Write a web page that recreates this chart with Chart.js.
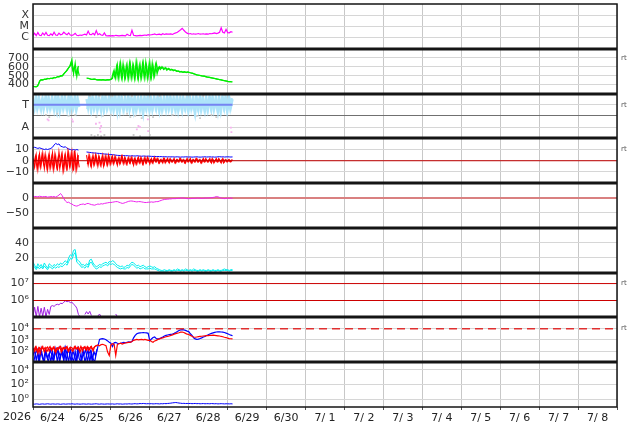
<!DOCTYPE html>
<html>
<head>
<meta charset="utf-8">
<script src="https://cdn.jsdelivr.net/npm/chart.js@4.4.1/dist/chart.umd.min.js"></script>
<style>
  html, body { margin: 0; padding: 0; background: #fff; }
  canvas { display: block; }
</style>
</head>
<body>
<canvas id="spaceWx" width="634" height="424"></canvas>
<script>
// time axis in hours from 6/24 00:00, series are one value per hour
// (the "Half" arrays are the in-between half-hour samples of the noisy series)
var xMin = 0, xMax = 360;
var yearLabel = '2026';
var dayLabels = ['6/24', '6/25', '6/26', '6/27', '6/28', '6/29', '6/30', '7/ 1',
                 '7/ 2', '7/ 3', '7/ 4', '7/ 5', '7/ 6', '7/ 7', '7/ 8'];

// x-ray flux, in 1e-6 W/m2
var xrayFlux = [
  1.6, 2.4, 1.5, 2.8, 1.6, 1.5, 2.6, 1.7, 2.9, 1.6, 1.5, 2.2,
  1.6, 3.0, 1.7, 1.6, 2.5, 1.8, 2.0, 3.1, 2.2, 1.8, 2.6, 1.7,
  1.6, 1.8, 2.4, 1.6, 1.5, 1.7, 1.6, 1.8, 2.0, 1.7, 3.8, 1.9,
  1.8, 2.4, 1.7, 4.2, 1.8, 2.2, 1.7, 1.6, 2.6, 1.5, 1.4, 1.5,
  1.4, 1.5, 1.4, 1.6, 1.5, 1.4, 1.5, 1.6, 1.5, 1.4, 2.0, 1.6,
  1.5, 4.5, 1.6, 1.5, 1.4, 1.5, 1.6, 1.5, 1.6, 1.7, 1.6, 1.8,
  1.7, 1.8, 1.9, 2.1, 1.8, 1.9, 2.0, 1.8, 2.2, 1.9, 2.1, 2.0,
  2.0, 2.1, 1.9, 2.3, 2.6, 3.0, 3.8, 5.0, 6.8, 4.5, 3.2, 2.5,
  2.1, 2.3, 2.0, 2.2, 2.0, 2.1, 2.3, 2.0, 2.1, 2.2, 2.0, 2.1,
  2.0, 2.3, 2.2, 2.4, 2.6, 2.3, 2.5, 3.0, 7.5, 3.0, 2.6, 5.5,
  2.8, 2.7, 3.4, 3.0];
var xrayTicks = [1, 10, 100];
var xrayTickLabels = ['C', 'M', 'X'];

// solar wind speed, km/s
var windSpeed = [
  380, 378, 375, 385, 440, 455, 450, 462, 458, 470, 465, 472,
  468, 480, 475, 490, 485, 500, 495, 520, 540, 560, 590, 610,
  680, 520, 640, 490, 610, null, null, null, null, 472, 470, 465,
  460, 458, 462, 455, 452, 456, 450, 455, 452, 450, 455, 452,
  458, 470, 560, 470, 620, 480, 640, 470, 600, 480, 620, 470,
  630, 475, 610, 480, 650, 470, 625, 485, 640, 475, 615, 490,
  650, 480, 610, 500, 640, 560, 600, 580, 590, 575, 585, 570,
  575, 565, 568, 560, 556, 550, 548, 545, 540, 542, 538, 540,
  537, 532, 528, 522, 515, 508, 506, 502, 498, 495, 492, 486,
  483, 480, 476, 472, 468, 464, 460, 456, 452, 448, 444, 440,
  436, 433, 432, 430];
var windSpeedHalf = [
  379, 376, 380, 410, 448, 452, 456, 460, 464, 468, 468, 470,
  474, 478, 482, 488, 492, 498, 508, 530, 550, 575, 600, 650,
  560, 600, 520, 580, 500, null, null, null, null, 471, 468, 462,
  459, 460, 458, 453, 454, 453, 452, 453, 451, 452, 453, 455,
  465, 540, 480, 600, 470, 620, 480, 630, 470, 610, 475, 640,
  480, 620, 470, 645, 480, 610, 470, 635, 485, 650, 470, 620,
  480, 640, 490, 620, 520, 590, 570, 600, 570, 590, 560, 580,
  560, 572, 555, 565, 548, 552, 540, 548, 536, 545, 534, 541,
  535, 530, 525, 518, 512, 507, 504, 500, 496, 494, 489, 484,
  481, 478, 474, 470, 466, 462, 458, 454, 450, 446, 442, 438,
  434, 433, 431];
var speedTicks = [400, 500, 600, 700];

// field direction: T = 3, A = 1
var phiBand = [
  3.5, 2.7, 3.6, 2.8, 3.4, 2.6, 3.5, 2.9, 3.6, 2.7, 3.4, 2.8,
  3.5, 2.6, 3.6, 2.5, 3.4, 2.7, 3.6, 2.8, 3.5, 2.6, 3.7, 2.7,
  3.5, 2.8, 3.6, 2.7, 3.4, null, null, null, null, 3.5, 2.7, 3.6,
  2.6, 3.5, 2.8, 3.6, 2.7, 3.4, 2.5, 3.6, 2.7, 3.5, 2.8, 3.6,
  2.6, 3.7, 2.7, 3.5, 2.4, 3.6, 2.8, 3.4, 2.6, 3.5, 2.7, 3.6,
  2.8, 3.4, 2.5, 3.6, 2.7, 3.5, 2.6, 3.4, 2.3, 3.5, 2.7, 3.6,
  2.6, 3.4, 2.8, 3.5, 2.7, 3.6, 2.5, 3.4, 2.7, 3.5, 2.6, 3.6,
  2.8, 3.5, 2.7, 3.4, 2.6, 3.6, 2.8, 3.5, 2.5, 3.4, 2.7, 3.6,
  2.6, 3.5, 2.8, 3.4, 2.3, 3.5, 2.6, 3.6, 2.7, 3.4, 2.5, 3.5,
  2.7, 3.6, 2.6, 3.5, 2.8, 3.4, 2.4, 3.5, 2.6, 3.6, 2.7, 3.5,
  2.6, 3.6, 2.8, 3.5];
var phiBandHalf = [
  2.6, 3.5, 2.7, 3.6, 2.8, 3.4, 2.6, 3.5, 2.8, 3.6, 2.7, 3.5,
  2.8, 3.5, 2.6, 3.6, 2.5, 3.5, 2.7, 3.6, 2.8, 3.4, 2.6, 3.6,
  2.7, 3.5, 2.6, 3.6, 2.8, null, null, null, null, 2.6, 3.6, 2.7,
  3.6, 2.7, 3.5, 2.6, 3.6, 2.8, 3.5, 2.6, 3.6, 2.7, 3.5, 2.8,
  3.5, 2.6, 3.6, 2.7, 3.5, 2.5, 3.6, 2.7, 3.5, 2.8, 3.6, 2.6,
  3.5, 2.7, 3.6, 2.6, 3.4, 2.8, 3.6, 2.5, 3.5, 2.8, 3.6, 2.7,
  3.5, 2.6, 3.6, 2.8, 3.5, 2.7, 3.6, 2.6, 3.5, 2.8, 3.6, 2.7,
  3.6, 2.6, 3.5, 2.7, 3.6, 2.5, 3.4, 2.7, 3.6, 2.8, 3.5, 2.6,
  3.6, 2.7, 3.5, 2.5, 3.6, 2.8, 3.5, 2.6, 3.6, 2.7, 3.5, 2.6,
  3.5, 2.8, 3.6, 2.6, 3.5, 2.7, 3.6, 2.5, 3.5, 2.8, 3.6, 2.6,
  3.5, 2.7, 3.6];
var phiGrayHours = [8, 10, 15, 20, 22, 26, 35, 36, 37, 38, 39, 40, 41, 42, 43, 44, 45, 48, 49, 56, 58,
                    60, 61, 62, 63, 64, 66, 67, 70, 71, 72, 74, 78, 86, 95, 101, 103, 105, 110, 113, 118];
var phiGrayValues = [2.1, 1.9, 2.2, 3.9, 2.0, 2.1, 3.8, 0.3, 3.9, 0.2, 1.9, 0.3, 3.8, 0.2, 2.0, 0.3, 3.9, 2.1, 3.8, 3.9, 2.2,
                     1.9, 3.8, 0.3, 2.0, 3.9, 0.2, 1.8, 3.9, 2.0, 0.3, 1.9, 3.8, 2.1, 3.9, 2.0, 1.8, 3.8, 2.1, 1.9, 3.9];
var phiPinkHours = [9, 9.6, 24, 24.6, 38.8, 41, 41.3, 41.6, 42, 64, 65, 66, 70.8, 71, 122, 122.3];
var phiPinkValues = [1.7, 1.6, 1.7, 1.5, 1.3, 1.4, 0.9, 0.6, 1.1, 0.8, 1.1, 1.0, 1.7, 0.65, 0.95, 0.55];
var phiSector = 3;
var phiTicks = [1, 2, 3];
var phiTickLabels = ['A', '', 'T'];

// IMF total (Bt) and north-south (Bz), nT
var fieldBt = [
  11.5, 12, 11.5, 11, 11.5, 11, 10.5, 10, 10.5, 10, 10.5, 11,
  12, 14, 15.5, 14.5, 15, 13, 12.5, 12, 12.5, 11, 10.5, 10,
  9.5, 10, 9.5, 10, 9.5, null, null, null, null, 7.8, 7.6, 7.4,
  7.2, 7, 6.9, 6.8, 6.6, 6.5, 6.3, 6.2, 6.0, 5.9, 5.8, 5.6,
  5.5, 5.4, 5.2, 5.0, 4.8, 4.7, 4.6, 4.5, 4.6, 4.4, 4.5, 4.3,
  4.2, 4.4, 4.3, 4.2, 4.4, 4.3, 4.1, 4.0, 4.2, 4.1, 4.0, 4.1,
  4.0, 3.9, 3.8, 3.9, 3.7, 3.8, 3.6, 3.7, 3.5, 3.6, 3.5, 3.4,
  3.5, 3.4, 3.5, 3.3, 3.4, 3.5, 3.3, 3.2, 3.4, 3.3, 3.5, 3.4,
  3.3, 3.4, 3.2, 3.3, 3.4, 3.5, 3.3, 3.2, 3.3, 3.4, 3.5, 3.3,
  3.4, 3.5, 3.3, 3.4, 3.2, 3.3, 3.5, 3.6, 3.4, 3.5, 3.3, 3.4,
  3.5, 3.4, 3.3, 3.4];
var fieldBz = [
  2, -6, 5, -8, 6, -4, 7, -7, 3, -8, 6, -5,
  7, -6, 4, -9, 8, -3, 6, -8, 5, -9, 7, -4,
  8, -9, 6, -7, 5, null, null, null, null, 5, -4, 4,
  -5, 5, -3, 4, -5, 3, -4, 5, -3, 4, -4, 3,
  -3, 4, -2, 3, -4, 3, -2, 4, -3, 2, -3, 3,
  -2, 3, -4, 2, -3, 3, -2, 2, -3, 3, -2, 2,
  -3, 2, -2, 3, -1, 2, -2, 1, -2, 2, -1, 2,
  -2, 1, -1, 2, -2, 1, -1, 2, -1, 1, -2, 2,
  -1, 2, -2, 1, -1, 2, -1, 1, -2, 2, -1, 1,
  -1, 2, -2, 1, -1, 2, -1, 1, -2, 2, -1, 1,
  -1, 1, -1, 1];
var fieldBzHalf = [
  -3, 4, -7, 3, -6, 5, -3, 6, -6, 4, -7, 3,
  -8, 6, -5, 3, -7, 5, -9, 4, -6, 8, -5, 6,
  -7, 9, -8, 4, -6, null, null, null, null, -3, 5, -4,
  3, -4, 5, -3, 4, -4, 3, -5, 4, -3, 5, -3,
  3, -3, 4, -2, 2, -3, 4, -2, 3, -3, 2, -2,
  3, -2, 2, -3, 2, -2, 3, -3, 2, -2, 3, -1,
  1, -2, 2, -1, 2, -2, 1, -1, 2, -2, 1, -1,
  2, -1, 1, -2, 1, -1, 2, -1, 1, -2, 1, -1,
  1, -2, 1, -1, 2, -1, 1, -2, 1, -1, 2, -1,
  1, -1, 2, -2, 1, -1, 2, -1, 1, -2, 1, -1,
  1, -1, 1];
var fieldZero = 0;
var fieldTicks = [-10, 0, 10];
var fieldTickLabels = ['\u221210', '0', '10'];

// Dst index, nT
var dstIndex = [
  6, 5, 5, 4, 6, 5, 4, 5, 5, 3, 4, 5,
  4, 5, 3, 6, 10, 15, 8, -2, -10, -15, -14, -18,
  -20, -24, -26, -27, -25, -22, -21, -20, -22, -19, -18, -20,
  -22, -23, -24, -22, -20, -21, -19, -20, -18, -17, -16, -15,
  -15, -14, -13, -12, -12, -14, -16, -18, -17, -15, -13, -11,
  -10, -10, -11, -12, -13, -12, -12, -13, -14, -15, -15, -14,
  -14, -13, -14, -13, -12, -12, -10, -8, -6, -5, -4, -4,
  -3, -3, -2, -2, -2, -1, -1, 0, 0, 0, -1, -2,
  -2, -2, -1, -1, -1, 0, 0, -1, -1, -1, 0, 0,
  0, 1, 1, 2, 3, 5, 4, 2, 0, -1, -2, -1,
  0, -1, 0, -1];
var dstZero = 0;
var dstTicks = [-50, 0];
var dstTickLabels = ['\u221250', '0'];

// two cyan channels
var cyanUpper = [
  14, 10, 6, 12, 8, 11, 7, 13, 9, 6, 12, 10,
  8, 11, 9, 12, 10, 13, 11, 14, 16, 13, 20, 24,
  22, 30, 31, 18, 16, 14, 10, 11, 9, 12, 10, 17,
  18, 13, 10, 8, 9, 11, 10, 12, 13, 14, 12, 15,
  14, 16, 15, 12, 10, 9, 8, 9, 7, 8, 10, 9,
  12, 14, 13, 11, 9, 10, 8, 9, 10, 8, 7, 8,
  9, 8, 7, 8, 6, 5, 4, 3, 3, 4, 3, 3,
  4, 3, 3, 4, 3, 5, 4, 3, 4, 3, 5, 4,
  3, 4, 3, 5, 4, 3, 3, 4, 3, 4, 3, 3,
  4, 3, 3, 4, 3, 3, 4, 3, 3, 4, 5, 4,
  4, 3, 4, 4];
var cyanLower = [
  10, 7, 4, 8, 5, 8, 5, 9, 6, 4, 8, 7,
  5, 8, 6, 8, 7, 9, 8, 10, 12, 10, 15, 19,
  18, 24, 27, 14, 12, 10, 7, 8, 6, 9, 7, 13,
  14, 10, 7, 5, 6, 8, 7, 9, 10, 11, 9, 12,
  11, 12, 11, 9, 7, 6, 5, 6, 5, 5, 7, 6,
  9, 11, 10, 8, 6, 7, 5, 6, 7, 5, 5, 5,
  6, 5, 5, 5, 4, 3, 2, 2, 2, 2, 2, 2,
  3, 2, 2, 3, 2, 3, 3, 2, 3, 2, 3, 3,
  2, 3, 2, 3, 3, 2, 2, 3, 2, 3, 2, 2,
  3, 2, 2, 3, 2, 2, 3, 2, 2, 3, 3, 3,
  3, 2, 3, 3];
var cyanTicks = [20, 40];

// high energy flux (purple), with alert levels
var highFlux = [
  1.2e5, 4e5, 1.1e5, 4.5e5, 1.1e5, 3.5e5, 1.2e5, 4e5, 1.1e5, 3e5, 1.5e5, 4.5e5,
  5e5, 4.5e5, 5.5e5, 6e5, 5.5e5, 7e5, 6.5e5, 8e5, 9.5e5, 8.5e5, 9e5, 7.5e5,
  8e5, 6e5, 5e5, 3.5e5, 1.5e5, 1.1e5, null, null, 1.5e5, 2.2e5, 1.6e5, 2.3e5,
  1.3e5, null, null, null, 1.2e5, 1.6e5, 1.1e5, null, null, null, null, null,
  null, null, null, 1.6e5, 1.1e5, null, null, null, null, null, null, null,
  null, 1.3e5];
var highLevels = [1e6, 1e7];
var highTicks = [1e6, 1e7];
var highTickLabels = ['10\u2076', '10\u2077'];

// electron flux, two channels, with alert level
var elecBlue = [
  40, 120, 15, 80, 10.5, 150, 30, 10.5, 100, 25, 60, 10.5,
  90, 20, 140, 10.5, 70, 35, 120, 10.5, 200, 50, 10.5, 150,
  30, 10.5, 100, 10.5, 160, 60, 10.5, 90, 10.5, 40, 130, 10.5,
  80, 20, 10.5, 60, 250, 1100, 1200, 1300, 1200, 1000, 800, 600,
  500, 250, 550, 600, 500, 450, 500, 550, 600, 550, 600, 650,
  620, 700, 1500, 2500, 3500, 4000, 4200, 4300, 4400, 4300, 4200, 3800,
  800, 1200, 1600, 1800, 1300, 1200, 1300, 1500, 1800, 2200, 2500, 2700,
  2900, 3100, 3300, 3800, 4500, 5500, 6900, 7800, 8300, 7800, 7000, 6000,
  5500, 3500, 2500, 1500, 1200, 1100, 1150, 1300, 1500, 1800, 2000, 2400,
  2800, 3300, 3800, 4200, 4600, 5000, 5200, 5100, 5000, 4800, 4500, 4000,
  3500, 3000, 2600, 2300];
var elecBlueHalf = [
  10.5, 60, 130, 10.5, 90, 40, 10.5, 120, 30, 10.5, 140, 50,
  10.5, 110, 40, 150, 10.5, 90, 30, 160, 10.5, 120, 70, 10.5,
  110, 40, 10.5, 140, 20, 10.5, 120, 50, 150, 10.5, 60, 110,
  10.5, 90, 40, 150];
var elecRed = [
  180, 90, 220, 60, 200, 140, 250, 80, 170, 230, 100, 190,
  150, 240, 70, 200, 180, 260, 110, 210, 160, 250, 90, 220,
  200, 130, 270, 150, 230, 80, 210, 180, 250, 120, 220, 170,
  260, 100, 240, 300, 350, 300, 380, 400, 350, 300, 80, 40,
  350, 450, 400, 40, 380, 450, 500, 420, 480, 520, 560, 600,
  600, 700, 900, 1000, 1100, 1000, 1050, 1100, 1000, 1100, 1000, 900,
  950, 700, 600, 800, 900, 1100, 1200, 1400, 1500, 1700, 1900, 2000,
  2200, 2500, 2800, 3200, 3600, 4000, 4300, 4800, 5000, 4500, 3800, 3200,
  3000, 2500, 2100, 1800, 1700, 1800, 1900, 2000, 2100, 2200, 2300, 2400,
  2400, 2500, 2500, 2600, 2500, 2400, 2300, 2200, 2000, 1900, 1700, 1600,
  1400, 1300, 1250, 1200];
var elecRedHalf = [
  120, 240, 100, 190, 60, 230, 130, 210, 90, 160, 250, 110,
  220, 100, 180, 130, 240, 80, 200, 150, 230, 110, 190, 140,
  90, 240, 160, 200, 120, 260, 100, 220, 140, 250, 110, 230,
  150, 200, 280, 320];
var elecLevel = 1e4;
var elecTicks = [1e2, 1e3, 1e4];
var elecTickLabels = ['10\u00b2', '10\u00b3', '10\u2074'];

// low channel (bottom panel)
var lowFlux = [
  0.25, 0.24, 0.26, 0.25, 0.23, 0.25, 0.26, 0.24, 0.25, 0.27, 0.25, 0.24,
  0.26, 0.25, 0.24, 0.26, 0.25, 0.23, 0.25, 0.26, 0.24, 0.25, 0.26, 0.25,
  0.27, 0.25, 0.24, 0.26, 0.25, 0.24, 0.25, 0.26, 0.25, 0.24, 0.26, 0.25,
  0.24, 0.25, 0.26, 0.27, 0.25, 0.24, 0.26, 0.25, 0.24, 0.25, 0.26, 0.25,
  0.25, 0.26, 0.24, 0.25, 0.27, 0.25, 0.26, 0.24, 0.25, 0.26, 0.25, 0.27,
  0.26, 0.25, 0.27, 0.28, 0.26, 0.27, 0.29, 0.28, 0.30, 0.28, 0.27, 0.28,
  0.27, 0.28, 0.26, 0.27, 0.28, 0.27, 0.26, 0.28, 0.27, 0.29, 0.28, 0.30,
  0.31, 0.33, 0.36, 0.38, 0.40, 0.37, 0.34, 0.32, 0.30, 0.31, 0.29, 0.30,
  0.29, 0.30, 0.28, 0.29, 0.30, 0.28, 0.29, 0.27, 0.28, 0.29, 0.27, 0.28,
  0.28, 0.27, 0.29, 0.28, 0.27, 0.28, 0.26, 0.27, 0.28, 0.27, 0.26, 0.27,
  0.27, 0.26, 0.27, 0.26];
var lowTicks = [1, 1e2, 1e4];
var lowTickLabels = ['10\u2070', '10\u00b2', '10\u2074'];

// panels from top to bottom
var panelIds = ['yXray', 'ySpeed', 'yPhi', 'yField', 'yDst', 'yCyan', 'yHigh', 'yElec', 'yLow'];

function hourly(values) {
  return values.map(function (v, i) { return { x: i, y: v }; });
}
function halfHourly(values) {
  return values.map(function (v, i) { return { x: i + 0.5, y: v }; });
}
function pairs(hours, values) {
  return hours.map(function (h, i) { return { x: h, y: values[i] }; });
}
function across(level, from, to) {
  return [{ x: from, y: level }, { x: to, y: level }];
}
function line(data, axis, color, width, extra) {
  var ds = { type: 'line', data: data, yAxisID: axis, borderColor: color, borderWidth: width || 1,
             pointRadius: 0, fill: false, tension: 0, spanGaps: false };
  for (var k in extra) ds[k] = extra[k];
  return ds;
}
function dots(data, axis, color) {
  return { type: 'line', data: data, yAxisID: axis, showLine: false, pointStyle: 'rect',
           pointRadius: 1.3, pointBorderWidth: 0, pointBackgroundColor: color, borderColor: color };
}

// datasets listed from back to front
var layers = [
  line(hourly(phiBand), 'yPhi', '#aee4fa', 2.4),
  line(halfHourly(phiBandHalf), 'yPhi', '#aee4fa', 2.4),
  dots(pairs(phiGrayHours, phiGrayValues), 'yPhi', '#cbcbcb'),
  dots(pairs(phiPinkHours, phiPinkValues), 'yPhi', '#f6b3ef'),
  line(across(phiSector, 0, phiBand.length - 1), 'yPhi', '#7585f2', 2),
  line(hourly(xrayFlux), 'yXray', '#ff00ff', 1.2),
  line(hourly(windSpeed), 'ySpeed', '#00ee00', 1.2),
  line(halfHourly(windSpeedHalf), 'ySpeed', '#00ee00', 1.2),
  line(hourly(fieldBt), 'yField', '#0000ff', 1),
  line(hourly(fieldBz), 'yField', '#ff0000', 1.1),
  line(halfHourly(fieldBzHalf), 'yField', '#ff0000', 1.1),
  line(across(fieldZero, xMin, xMax), 'yField', '#c00000', 1),
  line(across(dstZero, xMin, xMax), 'yDst', '#d98080', 2),
  line(hourly(dstIndex), 'yDst', '#ee22ee', 1),
  line(hourly(cyanLower), 'yCyan', '#00eeee', 1),
  line(hourly(cyanUpper), 'yCyan', '#00eeee', 1),
  line(hourly(highFlux), 'yHigh', '#a020e0', 1),
  line(across(highLevels[0], xMin, xMax), 'yHigh', '#cc0000', 1),
  line(across(highLevels[1], xMin, xMax), 'yHigh', '#cc0000', 1),
  line(hourly(elecBlue), 'yElec', '#0000ff', 1.2),
  line(halfHourly(elecBlueHalf), 'yElec', '#0000ff', 1.2),
  line(hourly(elecRed), 'yElec', '#ff0000', 1.2),
  line(halfHourly(elecRedHalf), 'yElec', '#ff0000', 1.2),
  line(across(elecLevel, xMin, xMax), 'yElec', '#e03030', 1.5, { borderDash: [8, 5] }),
  line(hourly(lowFlux), 'yLow', '#0000ff', 1)
];
layers.forEach(function (ds, i) { ds.order = layers.length - i; });

var tickFont = { family: 'DejaVu Sans', size: 11 };

function panelAxis(type, min, max, ticks, labels, gridColor) {
  return {
    type: type, position: 'left', stack: 'panels', stackWeight: 1,
    min: min, max: max,
    border: { display: false },
    grid: { color: gridColor || '#d6d6d6', drawTicks: false },
    ticks: {
      padding: 4, color: '#333', font: tickFont, autoSkip: false,
      callback: function (v, i) { return labels ? labels[i] : String(v); }
    },
    afterBuildTicks: function (s) { s.ticks = ticks.map(function (v) { return { value: v }; }); },
    afterFit: function (s) { s.width = 33; s.paddingTop = 0; s.paddingBottom = 0; }
  };
}

var axes = {
  yXray: panelAxis('logarithmic', 0.1, 1000, xrayTicks, xrayTickLabels),
  ySpeed: panelAxis('linear', 300, 800, speedTicks),
  yPhi: panelAxis('linear', 0, 4, phiTicks, phiTickLabels,
    function (c) { return c.tick && c.tick.value === 2 ? '#707070' : '#d6d6d6'; }),
  yField: panelAxis('linear', -20, 20, fieldTicks, fieldTickLabels),
  yDst: panelAxis('linear', -100, 50, dstTicks, dstTickLabels),
  yCyan: panelAxis('linear', 0, 60, cyanTicks),
  yHigh: panelAxis('logarithmic', 1e5, 4.4e7, highTicks, highTickLabels),
  yElec: panelAxis('logarithmic', 10, 1e5, elecTicks, elecTickLabels),
  yLow: panelAxis('logarithmic', 0.1, 1e5, lowTicks, lowTickLabels)
};

var scales = {
  x: {
    type: 'linear', position: 'bottom', min: xMin, max: xMax,
    border: { display: false },
    grid: {
      color: function (c) { return c.tick && c.tick.value % 24 === 0 ? '#c8c8c8' : 'rgba(0,0,0,0)'; },
      tickColor: function (c) { return c.tick && c.tick.value % 24 === 0 ? '#555' : 'rgba(0,0,0,0)'; },
      tickLength: 3
    },
    ticks: {
      stepSize: 12, autoSkip: false, maxRotation: 0, minRotation: 0, padding: 2,
      color: '#222', font: tickFont,
      callback: function (v) { return v % 24 === 12 ? dayLabels[(v - 12) / 24] : ''; }
    },
    afterFit: function (s) { s.height = 17; s.paddingLeft = 0; s.paddingRight = 0; }
  }
};
// stacked left axes are placed from the last declared one downward
panelIds.slice().reverse().forEach(function (id) { scales[id] = axes[id]; });

var rtMarks = [['ySpeed', 700], ['yPhi', 3], ['yField', 10], ['yHigh', 1e7], ['yElec', 1e4]];

var framePlugin = {
  id: 'frame',
  afterDatasetsDraw: function (chart) {
    var ctx = chart.ctx, a = chart.chartArea;
    ctx.save();
    ctx.strokeStyle = '#151515';
    ctx.lineWidth = 3;
    panelIds.forEach(function (id, i) {
      if (i === 0) return;
      var y = Math.round(chart.scales[id].top);
      ctx.beginPath(); ctx.moveTo(a.left, y); ctx.lineTo(a.right, y); ctx.stroke();
    });
    ctx.lineWidth = 1.5;
    ctx.strokeRect(a.left, a.top, a.right - a.left, a.bottom - a.top);
    ctx.restore();
  },
  afterDraw: function (chart) {
    var ctx = chart.ctx, a = chart.chartArea;
    ctx.save();
    ctx.fillStyle = '#222';
    ctx.font = '11px "DejaVu Sans"';
    ctx.textAlign = 'center';
    ctx.textBaseline = 'top';
    ctx.fillText(yearLabel, 17, a.bottom + 5);
    ctx.fillStyle = '#555';
    ctx.font = '7px "DejaVu Sans"';
    ctx.textAlign = 'left';
    ctx.textBaseline = 'middle';
    rtMarks.forEach(function (m) {
      ctx.fillText('rt', a.right + 4, chart.scales[m[0]].getPixelForValue(m[1]));
    });
    ctx.restore();
  }
};

new Chart(document.getElementById('spaceWx'), {
  type: 'line',
  data: { datasets: layers },
  options: {
    responsive: false, animation: false, devicePixelRatio: 1, events: [],
    layout: { padding: { top: 2, right: 17, left: 0, bottom: 0 } },
    plugins: { legend: { display: false }, tooltip: { enabled: false } },
    scales: scales
  },
  plugins: [framePlugin]
});
</script>
</body>
</html>
